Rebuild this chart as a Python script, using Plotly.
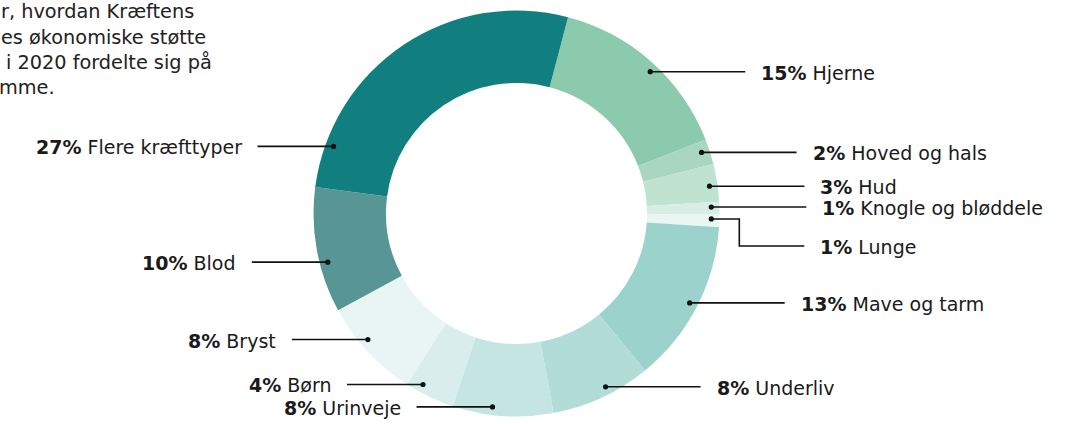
import math
import plotly.graph_objects as go

# ---- data ----
categories = ["Hjerne", "Hoved og hals", "Hud", "Knogle og bløddele", "Lunge",
              "Mave og tarm", "Underliv", "Urinveje", "Børn", "Bryst", "Blod",
              "Flere kræfttyper"]
values = [15, 2, 3, 1, 1, 13, 8, 8, 4, 8, 10, 27]
colors = ["#8ccaae", "#a8d6c1", "#bfe2d1", "#d6eee3", "#eaf6f1", "#9bd2cb",
          "#b2dcd8", "#c5e5e3", "#d9eeec", "#e9f5f5", "#579694", "#117f7f"]
intro_lines = ["r, hvordan Kræftens", "es økonomiske støtte",
               "i 2020 fordelte sig på", "mme."]

# ---- layout config ----
W, H = 1082, 424
cx, cy, R = 516.5, 213.5, 203.0
hole = 0.643
rotation = 14.7
FONT = "DejaVu Sans"
FS = 19
# where along each slice the leader dot sits (fraction of the slice angle)
anchor_frac = [0.53, 0.42, 0.56, 0.39, 0.36, 0.5, 0.42, 0.61, 0.72, 0.59, 0.39, 0.13]
label_dy = {"Lunge": 27}   # elbowed leader
right_len, left_len, gap = 95, 76, 14

def px(x):
    return x / W

def py(y):
    return 1 - y / H

fig = go.Figure()
fig.add_trace(go.Pie(
    labels=categories, values=values, sort=False, direction="clockwise",
    rotation=rotation, hole=hole, textinfo="none", hoverinfo="label+percent",
    marker=dict(colors=colors, line=dict(width=0)),
    domain=dict(x=[px(cx - R), px(cx + R)], y=[py(cy + R), py(cy - R)]),
    showlegend=False,
))

shapes, annotations = [], []
total = sum(values)
cum = 0
rdot = 0.96 * R
for cat, v, f in zip(categories, values, anchor_frac):
    ang = math.radians(rotation + 360 * (cum + f * v) / total)
    cum += v
    dx, dy = cx + rdot * math.sin(ang), cy - rdot * math.cos(ang)
    right = math.sin(ang) >= 0
    ly = dy + label_dy.get(cat, 0)
    if right:
        if cat in label_dy:
            ex = dx + 28
            pts = [(dx, dy), (ex, dy), (ex, ly), (dx + 93, ly)]
        else:
            pts = [(dx, dy), (dx + right_len, ly)]
        tx = pts[-1][0] + gap
        anchor = "left"
    else:
        pts = [(dx, dy), (dx - left_len, ly)]
        tx = pts[-1][0] - gap
        anchor = "right"
    path = "M " + " L ".join(f"{px(a)},{py(b)}" for a, b in pts)
    shapes.append(dict(type="path", path=path, xref="paper", yref="paper",
                       line=dict(color="#111111", width=1.6), layer="above"))
    shapes.append(dict(type="circle", xref="paper", yref="paper",
                       xsizemode="pixel", ysizemode="pixel",
                       xanchor=px(dx), yanchor=py(dy),
                       x0=-2.6, x1=2.6, y0=-2.6, y1=2.6,
                       fillcolor="#111111", line=dict(width=0), layer="above"))
    pct = round(100 * v / total)
    annotations.append(dict(
        text=f"<b>{pct}%</b> {cat}", x=px(tx), y=py(ly + 1), xref="paper", yref="paper",
        xanchor=anchor, yanchor="middle", showarrow=False,
        font=dict(family=FONT, size=FS, color="#1a1a1a")))

intro_x = [-1, -1, 4, -3]
for i, (line, x0) in enumerate(zip(intro_lines, intro_x)):
    annotations.append(dict(
        text=line, x=px(x0), y=py(12 + 25.3 * i), xref="paper", yref="paper",
        xanchor="left", yanchor="middle", showarrow=False,
        font=dict(family=FONT, size=19.3, color="#222222")))

fig.update_layout(
    width=W, height=H, margin=dict(l=0, r=0, t=0, b=0),
    paper_bgcolor="white", plot_bgcolor="white",
    shapes=shapes, annotations=annotations,
)
fig.write_html("out.html", config={"displayModeBar": False},
               post_script="document.body.style.margin='0';")
